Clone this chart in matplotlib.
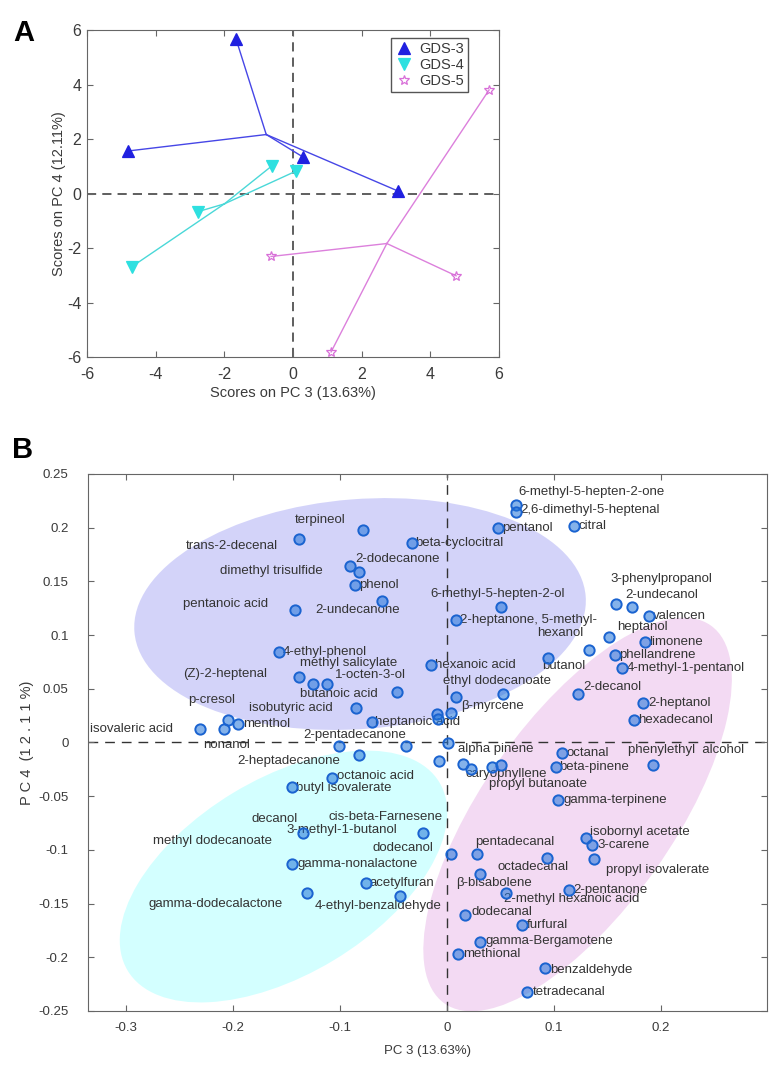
import numpy as np
import matplotlib.pyplot as plt
from matplotlib.patches import Ellipse

plt.rcParams['font.family'] = ['Liberation Sans', 'DejaVu Sans']
plt.rcParams['axes.unicode_minus'] = False

# ---------------- panel A: scores on PC3 / PC4 ----------------
groups = ["GDS-3", "GDS-4", "GDS-5"]
gds3_pc3 = [-1.66, -4.81, 0.29, 3.06]
gds3_pc4 = [5.67, 1.56, 1.34, 0.09]
gds4_pc3 = [-0.62, 0.10, -2.78, -4.70]
gds4_pc4 = [1.01, 0.83, -0.67, -2.69]
gds5_pc3 = [-0.64, 5.71, 4.75, 1.11]
gds5_pc4 = [-2.31, 3.80, -3.02, -5.81]

# ---------------- panel B: loadings ----------------
load_pc3 = [-0.0785, -0.1383, -0.0907, -0.0822, -0.0860, -0.1421, -0.0607, -0.0327,
            0.0645, 0.0645, 0.0477, 0.1187, 0.0505, 0.0084, 0.1579, 0.1729,
            0.1888, 0.1514, 0.1850, 0.1327, 0.1570, 0.0944, 0.1636, -0.0150,
            -0.1570, -0.1383, -0.1252, -0.1121, -0.0467, -0.0850, 0.0084, 0.0523,
            0.1224, 0.1832, 0.1748, 0.0037, -0.0093, -0.0084, -0.0701, -0.2308,
            -0.2047, -0.2084, -0.1953, -0.1009, -0.0822, -0.0383, 0.0009, -0.0075,
            0.0150, 0.0224, 0.0421, 0.0505, 0.1075, 0.1019, 0.1925, 0.1037,
            -0.1075, -0.1449, -0.1346, -0.0224, -0.1449, -0.0757, -0.1308, -0.0439,
            0.0037, 0.0280, 0.0935, 0.1299, 0.1355, 0.1374, 0.0308, 0.0551,
            0.1140, 0.0168, 0.0701, 0.0308, 0.0103, 0.0916, 0.0748]
load_pc4 = [0.1974, 0.1890, 0.1639, 0.1583, 0.1462, 0.1238, 0.1313, 0.1853,
            0.2207, 0.2142, 0.1993, 0.2020, 0.1266, 0.1145, 0.1285, 0.1257,
            0.1182, 0.0978, 0.0931, 0.0857, 0.0810, 0.0791, 0.0698, 0.0717,
            0.0838, 0.0605, 0.0540, 0.0549, 0.0466, 0.0317, 0.0419, 0.0447,
            0.0447, 0.0363, 0.0205, 0.0279, 0.0261, 0.0223, 0.0186, 0.0130,
            0.0205, 0.0121, 0.0168, -0.0037, -0.0112, -0.0037, -0.0009, -0.0177,
            -0.0196, -0.0251, -0.0233, -0.0214, -0.0102, -0.0233, -0.0214, -0.0540,
            -0.0335, -0.0410, -0.0847, -0.0847, -0.1127, -0.1313, -0.1397, -0.1425,
            -0.1043, -0.1043, -0.1080, -0.0885, -0.0950, -0.1089, -0.1229, -0.1406,
            -0.1369, -0.1611, -0.1704, -0.1862, -0.1974, -0.2104, -0.2328]

label_names = ["terpineol", "trans-2-decenal", "2-dodecanone", "dimethyl trisulfide", "phenol",
               "pentanoic acid", "2-undecanone", "beta-cyclocitral", "6-methyl-5-hepten-2-one",
               "2,6-dimethyl-5-heptenal", "pentanol", "citral", "6-methyl-5-hepten-2-ol",
               "2-heptanone, 5-methyl-", "hexanol", "3-phenylpropanol", "2-undecanol", "valencen",
               "heptanol", "limonene", "phellandrene", "butanol", "4-methyl-1-pentanol",
               "hexanoic acid", "4-ethyl-phenol", "methyl salicylate", "(Z)-2-heptenal",
               "1-octen-3-ol", "butanoic acid", "isobutyric acid", "p-cresol", "isovaleric acid",
               "menthol", "nonanol", "heptanoic acid", "2-pentadecanone", "ethyl dodecanoate",
               "β-myrcene", "2-decanol", "2-heptanol", "hexadecanol", "2-heptadecanone",
               "alpha pinene", "caryophyllene", "propyl butanoate", "octanal", "beta-pinene",
               "phenylethyl  alcohol", "gamma-terpinene", "octanoic acid", "butyl isovalerate",
               "decanol", "cis-beta-Farnesene", "3-methyl-1-butanol", "methyl dodecanoate",
               "dodecanol", "gamma-nonalactone", "acetylfuran", "gamma-dodecalactone",
               "4-ethyl-benzaldehyde", "pentadecanal", "octadecanal", "isobornyl acetate",
               "3-carene", "propyl isovalerate", "β-bisabolene", "2-methyl hexanoic acid",
               "2-pentanone", "dodecanal", "furfural", "gamma-Bergamotene", "methional",
               "benzaldehyde", "tetradecanal"]
label_pc3 = [-0.1187, -0.1579, -0.0860, -0.1159, -0.0822, -0.1673, -0.1234, -0.0299, 0.0664,
             0.0682, 0.0514, 0.1224, -0.0159, 0.0121, 0.0841, 0.1523, 0.1664, 0.1925,
             0.1589, 0.1888, 0.1607, 0.0888, 0.1682, -0.0112, -0.1533, -0.1374, -0.1682,
             -0.1047, -0.1374, -0.1065, -0.2421, -0.2561, -0.1907, -0.2280, -0.0673, -0.1346,
             -0.0037, 0.0131, 0.1271, 0.1879, 0.1785, -0.1963, 0.0103, 0.0168, 0.0393,
             0.1112, 0.1047, 0.1692, 0.1084, -0.1028, -0.1411, -0.1832, -0.1112, -0.1505,
             -0.2748, -0.0692, -0.1402, -0.0720, -0.2794, -0.1234, 0.0262, 0.0467, 0.1336,
             0.1402, 0.1486, 0.0084, 0.0533, 0.1178, 0.0224, 0.0748, 0.0355, 0.0150,
             0.0963, 0.0804]
label_pc4 = [0.2076, 0.1834, 0.1704, 0.1592, 0.1462, 0.1294, 0.1229, 0.1853, 0.2328,
             0.2169, 0.1993, 0.2020, 0.1387, 0.1145, 0.1015, 0.1518, 0.1369, 0.1182,
             0.1071, 0.0931, 0.0810, 0.0708, 0.0698, 0.0717, 0.0847, 0.0736, 0.0642,
             0.0624, 0.0456, 0.0317, 0.0391, 0.0130, 0.0168, -0.0028, 0.0186, 0.0074,
             0.0568, 0.0335, 0.0512, 0.0363, 0.0205, -0.0168, -0.0065, -0.0298, -0.0391,
             -0.0102, -0.0233, -0.0074, -0.0540, -0.0310, -0.0425, -0.0708, -0.0698, -0.0819,
             -0.0922, -0.0978, -0.1127, -0.1313, -0.1508, -0.1527, -0.0931, -0.1155, -0.0838,
             -0.0950, -0.1192, -0.1313, -0.1462, -0.1369, -0.1574, -0.1704, -0.1844, -0.1974,
             -0.2114, -0.2328]
right_aligned = {"trans-2-decenal", "dimethyl trisulfide", "pentanoic acid", "(Z)-2-heptenal",
                 "isobutyric acid", "isovaleric acid"}
centered = {"terpineol"}

# group ellipses: (centre pc3, centre pc4, width, height, angle)
ellipses = [((-0.0813, 0.1196), 0.423, 0.214, 4.5, "#ccccf9"),
            ((-0.1528, -0.1248), 0.340, 0.182, 31.0, "#ccffff"),
            ((0.1220, -0.0670), 0.431, 0.178, 54.7, "#f1d4f1")]

txt = "#3a3a3a"
spine = "#666666"

fig = plt.figure(figsize=(7.79, 10.68), dpi=100)

# ---- A ----
axA = fig.add_axes([0.1117, 0.6657, 0.5289, 0.3062])
sets = [(gds3_pc3, gds3_pc4, "#2020e0", "#4646e6", "^", "#2020e0", 8),
        (gds4_pc3, gds4_pc4, "#2ee0e0", "#4ad8d8", "v", "#2ee0e0", 8),
        (gds5_pc3, gds5_pc4, "#d870d8", "#dc80dc", "*", "none", 7.5)]
for name, (xs, ys, mc, lc, mk, fc, ms) in zip(groups, sets):
    cx, cy = np.mean(xs), np.mean(ys)
    for x, y in zip(xs, ys):
        axA.plot([cx, x], [cy, y], color=lc, lw=1.0, zorder=2)
    axA.plot(xs, ys, ls="none", marker=mk, ms=ms,
             mfc=fc, mec=mc, mew=0.9, label=name, zorder=3)
axA.axhline(0, color="#333333", ls=(0, (6, 4)), lw=1.1, zorder=1)
axA.axvline(0, color="#333333", ls=(0, (6, 4)), lw=1.1, zorder=1)
axA.set_xlim(-6, 6)
axA.set_ylim(-6, 6)
axA.set_xticks(range(-6, 7, 2))
axA.set_yticks(range(-6, 7, 2))
axA.tick_params(direction="in", top=True, right=True, length=4, colors=spine,
                labelcolor=txt, labelsize=11.5)
axA.tick_params(axis="x", pad=7)
axA.tick_params(axis="y", pad=4)
for s in axA.spines.values():
    s.set_color(spine)
axA.set_xlabel("Scores on PC 3 (13.63%)", color=txt, fontsize=10.5, labelpad=3)
axA.set_ylabel("Scores on PC 4 (12.11%)", color=txt, fontsize=10.5, labelpad=1)
leg = axA.legend(loc="upper right", bbox_to_anchor=(0.925, 0.976), borderaxespad=0,
                 fontsize=10.5, handletextpad=0.4, borderpad=0.3, labelspacing=0.12,
                 fancybox=False, framealpha=1, edgecolor="#555555", handlelength=1.2)
for t in leg.get_texts():
    t.set_color(txt)
fig.text(0.017, 0.969, "A", fontsize=21, fontweight="bold", va="center")

# ---- B ----
axB = fig.add_axes([0.1130, 0.0534, 0.8716, 0.5028])
for (c, w, h, ang, col) in ellipses:
    axB.add_patch(Ellipse(c, w, h, angle=ang, facecolor=col, edgecolor="none",
                          alpha=0.85, zorder=0))
axB.axhline(0, color="#333333", ls=(0, (7, 5)), lw=1.0, zorder=1)
axB.axvline(0, color="#333333", ls=(0, (7, 5)), lw=1.0, zorder=1)
for name, x, y in zip(label_names, label_pc3, label_pc4):
    ha = "right" if name in right_aligned else ("center" if name in centered else "left")
    axB.text(x, y, name, ha=ha, va="center", fontsize=9.5, color="#333333", zorder=2)
axB.scatter(load_pc3, load_pc4, s=55, facecolor=(0.12, 0.45, 0.85, 0.55),
            edgecolor="#1a63d0", linewidth=1.4, zorder=3)
axB.set_xlim(-0.3355, 0.299)
axB.set_ylim(-0.25, 0.25)
axB.set_xticks([-0.3, -0.2, -0.1, 0, 0.1, 0.2])
axB.set_xticklabels(["-0.3", "-0.2", "-0.1", "0", "0.1", "0.2"])
yt = [0.25, 0.2, 0.15, 0.1, 0.05, 0, -0.05, -0.1, -0.15, -0.2, -0.25]
axB.set_yticks(yt)
axB.set_yticklabels([f"{v:g}" for v in yt])
axB.tick_params(direction="in", top=True, right=True, length=4, colors=spine,
                labelcolor=txt, labelsize=9.5)
axB.tick_params(axis="x", pad=8)
axB.tick_params(axis="y", pad=14)
for s in axB.spines.values():
    s.set_color(spine)
axB.set_xlabel("PC 3 (13.63%)", color=txt, fontsize=9.5, labelpad=8)
axB.set_ylabel("P C 4  (1 2 . 1 1 %)", color=txt, fontsize=10.5, labelpad=3)
fig.text(0.015, 0.579, "B", fontsize=21, fontweight="bold", va="center")

fig.savefig("out.png", dpi=100)
